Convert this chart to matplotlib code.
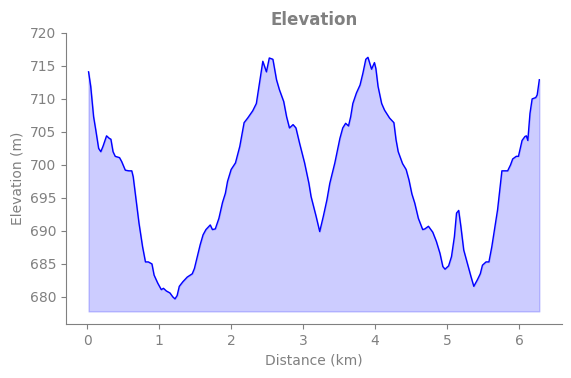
import matplotlib
matplotlib.use("Agg")
import matplotlib.pyplot as plt
import numpy as np

# Elevation profile
distance_km = [0.02, 0.05, 0.09, 0.12, 0.16, 0.19, 0.22, 0.27, 0.31, 0.33, 0.36, 0.39, 0.45, 0.48,
               0.53, 0.58, 0.62, 0.64, 0.68, 0.72, 0.77, 0.81, 0.85, 0.90, 0.93, 0.98, 1.03, 1.06,
               1.10, 1.15, 1.19, 1.22, 1.25, 1.28, 1.33, 1.39, 1.46, 1.49, 1.53, 1.57, 1.61, 1.65,
               1.71, 1.74, 1.78, 1.83, 1.88, 1.92, 1.95, 2.00, 2.06, 2.12, 2.18, 2.23, 2.30, 2.35,
               2.39, 2.44, 2.49, 2.53, 2.58, 2.63, 2.67, 2.73, 2.77, 2.81, 2.86, 2.90, 2.95, 3.02,
               3.08, 3.11, 3.18, 3.23, 3.28, 3.33, 3.37, 3.44, 3.51, 3.55, 3.59, 3.63, 3.66, 3.69,
               3.74, 3.79, 3.83, 3.87, 3.90, 3.95, 3.99, 4.01, 4.04, 4.09, 4.13, 4.20, 4.26, 4.29,
               4.32, 4.38, 4.43, 4.47, 4.51, 4.55, 4.60, 4.66, 4.69, 4.74, 4.80, 4.85, 4.90, 4.94,
               4.97, 5.02, 5.06, 5.10, 5.13, 5.16, 5.19, 5.23, 5.28, 5.33, 5.37, 5.42, 5.46, 5.49,
               5.54, 5.58, 5.62, 5.66, 5.70, 5.73, 5.76, 5.80, 5.84, 5.88, 5.91, 5.96, 5.99, 6.04,
               6.08, 6.10, 6.12, 6.15, 6.18, 6.23, 6.25, 6.28]
elevation_m = [714.1, 711.9, 707.3, 705.3, 702.5, 702.0, 702.8, 704.4, 704.0, 703.9, 702.0, 701.3,
               701.1, 700.5, 699.2, 699.1, 699.1, 698.2, 694.7, 691.2, 687.6, 685.3, 685.3, 685.0,
               683.3, 682.1, 681.1, 681.3, 680.9, 680.6, 680.0, 679.7, 680.2, 681.6, 682.3, 683.0,
               683.5, 684.3, 686.1, 687.9, 689.4, 690.2, 690.9, 690.2, 690.3, 691.9, 694.3, 695.7,
               697.5, 699.3, 700.3, 702.8, 706.4, 707.1, 708.2, 709.3, 712.1, 715.7, 714.1, 716.2,
               716.0, 712.9, 711.4, 709.6, 707.3, 705.6, 706.1, 705.6, 703.3, 700.3, 697.2, 695.2,
               692.2, 689.9, 692.2, 694.7, 697.2, 700.3, 704.0, 705.6, 706.3, 705.9, 707.3, 709.3,
               710.9, 712.1, 713.9, 716.0, 716.3, 714.5, 715.5, 714.6, 711.9, 709.3, 708.3, 707.1,
               706.4, 703.8, 702.0, 700.2, 699.3, 697.7, 695.6, 694.2, 691.9, 690.2, 690.3, 690.7,
               689.8, 688.4, 686.6, 684.6, 684.2, 684.7, 686.1, 689.1, 692.7, 693.1, 690.7, 687.1,
               685.1, 683.1, 681.6, 682.6, 683.5, 684.8, 685.3, 685.3, 687.6, 690.4, 693.2, 696.2,
               699.1, 699.1, 699.1, 700.0, 700.9, 701.3, 701.3, 703.7, 704.3, 704.4, 703.7, 707.8,
               710.0, 710.2, 710.6, 712.9]

text_color = "gray"
baseline = min(elevation_m) - 1.9

fig = plt.figure(figsize=(5.71, 3.78), dpi=100)
ax = fig.add_axes([0.1156, 0.143, 0.8684, 0.770])

ax.plot(distance_km, elevation_m, color="blue", linewidth=1)
ax.fill_between(distance_km, elevation_m, baseline, color="blue", alpha=0.2)

ax.set_ylim(675.9, 720)
ax.set_yticks(np.arange(680, 721, 5))
ax.set_xticks(range(0, 7))

ax.set_title("Elevation", fontsize=12, fontweight="bold", color=text_color)
ax.set_xlabel("Distance (km)", color=text_color)
ax.set_ylabel("Elevation (m)", color=text_color)

ax.spines["top"].set_visible(False)
ax.spines["right"].set_visible(False)
ax.spines["left"].set_color(text_color)
ax.spines["bottom"].set_color(text_color)
ax.tick_params(colors=text_color)

fig.savefig("out.png", dpi=100)
